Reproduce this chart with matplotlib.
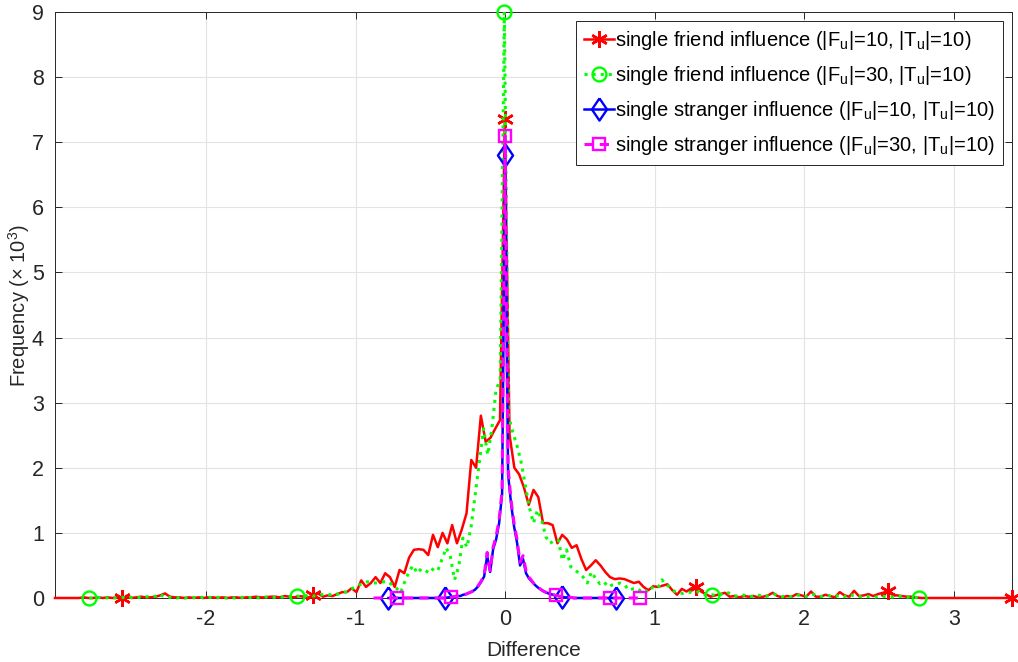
import numpy as np
import matplotlib
matplotlib.use("Agg")
import matplotlib.pyplot as plt

plt.rcParams['font.family'] = ['Liberation Sans', 'DejaVu Sans']
plt.rcParams['mathtext.fontset'] = 'custom'
plt.rcParams['mathtext.rm'] = 'Liberation Sans'
plt.rcParams['mathtext.it'] = 'Liberation Sans:italic'

# ---------------- data ----------------
# single friend influence (|F_u|=10, |T_u|=10): 201 bins over [-3.01, 3.39]
red_range = (-3.01, 3.39)
red_y = [
    0, 0, 0, 0, 0, 0, 0.01, 0, 0, 0.01,
    0, 0.01, 0, 0.01, 0, 0.01, 0, 0.01, 0.02, 0.01,
    0.01, 0.02, 0.04, 0.07, 0.02, 0.01, 0.01, 0, 0.01, 0,
    0.01, 0, 0.01, 0.01, 0, 0.01, 0, 0.01, 0.01, 0,
    0.01, 0.01, 0.02, 0.01, 0.01, 0.02, 0.02, 0.01, 0.03, 0.02,
    0.01, 0.03, 0.02, 0.01, 0.04, 0.07, 0.02, 0.04, 0.03, 0.06,
    0.09, 0.09, 0.15, 0.09, 0.27, 0.17, 0.23, 0.32, 0.23, 0.38,
    0.32, 0.17, 0.43, 0.38, 0.62, 0.74, 0.75, 0.74, 0.66, 0.97,
    0.78, 1.0, 0.84, 1.12, 0.84, 1.05, 1.3, 2.12, 2.0, 2.8,
    2.4, 2.46, 2.6, 2.73, 7.35, 2.5, 2.0, 1.9, 1.7, 1.43,
    1.66, 1.55, 1.15, 1.15, 1.12, 0.84, 0.97, 0.9, 0.77, 0.81,
    0.6, 0.43, 0.5, 0.58, 0.5, 0.4, 0.32, 0.29, 0.3, 0.29,
    0.26, 0.23, 0.25, 0.17, 0.12, 0.18, 0.17, 0.19, 0.21, 0.12,
    0.05, 0.14, 0.1, 0.15, 0.17, 0.1, 0.06, 0.02, 0.04, 0.06,
    0.08, 0.02, 0.03, 0.01, 0.03, 0.02, 0.03, 0.01, 0.02, 0.04,
    0.08, 0.03, 0.01, 0.03, 0.02, 0.06, 0.04, 0.02, 0.1, 0.02,
    0.02, 0.05, 0.03, 0.01, 0.09, 0.04, 0.02, 0.11, 0.03, 0.04,
    0.06, 0.03, 0.06, 0.08, 0.1, 0.05, 0.04, 0.03, 0.02, 0.02,
    0.01, 0, 0, 0, 0, 0, 0, 0, 0, 0,
    0, 0, 0, 0, 0, 0, 0, 0, 0, 0, 0,
]
red_marks = [14, 54, 94, 134, 174, 200]

# single friend influence (|F_u|=30, |T_u|=10): 201 bins over [-2.78, 2.77]
green_range = (-2.78, 2.77)
green_y = [
    0, 0, 0.01, 0, 0, 0.01, 0, 0, 0.01, 0,
    0.01, 0, 0.01, 0.01, 0.02, 0.01, 0.03, 0.06, 0.02, 0.01,
    0.01, 0, 0.01, 0, 0.01, 0.01, 0, 0.01, 0, 0.01,
    0, 0.01, 0.01, 0, 0.01, 0, 0.01, 0.01, 0, 0.01,
    0.01, 0, 0.01, 0.02, 0.01, 0.01, 0.02, 0.01, 0.02, 0.02,
    0.03, 0.02, 0.03, 0.05, 0.03, 0.04, 0.05, 0.06, 0.05, 0.07,
    0.06, 0.08, 0.1, 0.14, 0.16, 0.2, 0.22, 0.25, 0.24, 0.23,
    0.24, 0.25, 0.25, 0.2, 0.15, 0.08, 0.25, 0.4, 0.5, 0.38,
    0.45, 0.42, 0.38, 0.46, 0.43, 0.6, 0.77, 0.63, 0.28, 0.48,
    0.92, 0.78, 1.1, 1.6, 2.1, 2.6, 2.2, 2.6, 3.2, 3.35,
    9.0, 2.8, 2.55, 2.35, 2.1, 1.75, 1.4, 1.15, 1.35, 1.2,
    0.94, 0.84, 0.88, 0.89, 0.58, 0.74, 0.48, 0.43, 0.38, 0.32,
    0.23, 0.4, 0.3, 0.22, 0.25, 0.17, 0.2, 0.22, 0.23, 0.2,
    0.12, 0.14, 0.15, 0.1, 0.08, 0.17, 0.15, 0.15, 0.28, 0.2,
    0.17, 0.1, 0.08, 0.07, 0.08, 0.09, 0.08, 0.1, 0.06, 0.04,
    0.05, 0.04, 0.06, 0.05, 0.08, 0.04, 0.03, 0.05, 0.04, 0.02,
    0.03, 0.05, 0.03, 0.02, 0.04, 0.06, 0.03, 0.02, 0.03, 0.02,
    0.05, 0.04, 0.02, 0.03, 0.06, 0.05, 0.02, 0.03, 0.04, 0.02,
    0.03, 0.04, 0.02, 0.06, 0.04, 0.03, 0.02, 0.03, 0.02, 0.01,
    0.02, 0.03, 0.02, 0.01, 0.02, 0.03, 0.02, 0.01, 0.02, 0.01, 0.0,
]
green_marks = [0, 50, 100, 150, 200]

# single stranger influence (|F_u|=10, |T_u|=10): 77 bins over [-0.78, 0.74]
blue_range = (-0.78, 0.74)
blue_y = [
    0, 0, 0, 0, 0, 0, 0, 0, 0, 0,
    0, 0, 0, 0, 0, 0, 0, 0, 0,
    0.0, 0.01, 0.01, 0.02, 0.03, 0.03, 0.05, 0.06, 0.08, 0.1,
    0.13, 0.18, 0.25, 0.33, 0.65, 0.4, 0.75, 0.9, 1.15, 1.6,
    6.8,
    1.9, 1.45, 1.1, 0.85, 0.5, 0.6, 0.38, 0.3, 0.25, 0.2,
    0.16, 0.13, 0.1, 0.08, 0.06, 0.05, 0.04, 0.03, 0.02, 0.01,
    0.01, 0.01, 0, 0, 0, 0, 0, 0, 0, 0,
    0, 0, 0, 0, 0, 0, 0,
]
blue_marks = [0, 19, 39, 58, 76]

# single stranger influence (|F_u|=30, |T_u|=10): 90 bins over [-0.88, 0.90]
mag_range = (-0.88, 0.90)
mag_y = [
    0, 0, 0, 0, 0, 0, 0, 0, 0, 0,
    0, 0, 0, 0, 0, 0, 0, 0, 0, 0,
    0, 0, 0, 0,
    0.0, 0.01, 0.01, 0.02, 0.03, 0.04, 0.05, 0.06, 0.08, 0.1,
    0.13, 0.19, 0.26, 0.35, 0.7, 0.42, 0.78, 0.95, 1.2, 1.65,
    7.1,
    2.0, 1.5, 1.15, 0.9, 0.55, 0.65, 0.42, 0.32, 0.26, 0.2,
    0.16, 0.13, 0.1, 0.08, 0.06, 0.05, 0.04, 0.03, 0.02, 0.02,
    0.01, 0.01, 0, 0, 0, 0, 0, 0, 0, 0,
    0, 0, 0, 0, 0, 0, 0, 0, 0, 0,
    0, 0, 0, 0, 0,
]
mag_marks = [8, 26, 44, 61, 79, 89]

labels = [
    r'single friend influence (|F$_\mathregular{u}$|=10, |T$_\mathregular{u}$|=10)',
    r'single friend influence (|F$_\mathregular{u}$|=30, |T$_\mathregular{u}$|=10)',
    r'single stranger influence (|F$_\mathregular{u}$|=10, |T$_\mathregular{u}$|=10)',
    r'single stranger influence (|F$_\mathregular{u}$|=30, |T$_\mathregular{u}$|=10)',
]
xticks = [-2, -1, 0, 1, 2, 3]
yticks = [0, 1, 2, 3, 4, 5, 6, 7, 8, 9]

# ---------------- plot ----------------
fig = plt.figure(figsize=(10.18, 6.62), dpi=100)
ax = fig.add_axes([55 / 1018, 64 / 662, (1012 - 55) / 1018, (598 - 12) / 662])

def xs(rng, ys):
    return np.linspace(rng[0], rng[1], len(ys))

diamond = [(0, 1), (0.68, 0), (0, -1), (-0.68, 0), (0, 1)]

ax.plot(xs(red_range, red_y), red_y, '-', color=(1, 0, 0), lw=1.8,
        marker=(6, 2, 0), markersize=12, markeredgewidth=1.8,
        markevery=red_marks, label=labels[0], zorder=3, clip_on=False)
ax.plot(xs(green_range, green_y), green_y, ':', color=(0, 1, 0), lw=2.2,
        marker='o', markersize=10, markerfacecolor='none', markeredgewidth=1.7,
        markevery=green_marks, label=labels[1], zorder=3, clip_on=False)
ax.plot(xs(blue_range, blue_y), blue_y, '-', color=(0, 0, 1), lw=1.8,
        marker=diamond, markersize=16, markerfacecolor='none', markeredgewidth=1.7,
        markevery=blue_marks, label=labels[2], zorder=3, clip_on=False)
ax.plot(xs(mag_range, mag_y), mag_y, '--', color=(1, 0, 1), lw=2.2,
        dashes=(3, 2),
        marker='s', markersize=8, markerfacecolor='none', markeredgewidth=1.7,
        markevery=mag_marks, label=labels[3], zorder=3, clip_on=False)

ax.set_xlim(red_range)
ax.set_ylim(0, 9)
ax.set_xticks(xticks)
ax.set_yticks(yticks)
ax.set_xticklabels([str(t) for t in xticks])
ax.set_yticklabels([str(t) for t in yticks])
ax.grid(True, color='#e3e3e3', lw=0.8)
ax.set_axisbelow(True)
for s in ax.spines.values():
    s.set_color('#262626')
    s.set_linewidth(0.7)
ax.tick_params(direction='in', top=True, right=True, length=5, width=0.7,
               colors='#262626', labelsize=15.5, pad=8)

ax.set_xlabel('Difference', fontsize=15, color='#262626', labelpad=8)
ax.set_ylabel(r'Frequency ($\times$ 10$^\mathregular{3}$)', fontsize=14.5,
              color='#262626')
ax.yaxis.set_label_coords(-0.024, 0.5)

leg = ax.legend(loc='upper right', fontsize=14.5, frameon=True, fancybox=False,
                edgecolor='#262626', framealpha=1, handlelength=1.5,
                handletextpad=0.05, borderpad=0.4, labelspacing=0.6,
                borderaxespad=0.45)
leg.get_frame().set_linewidth(0.7)

fig.savefig('out.png', dpi=100)
